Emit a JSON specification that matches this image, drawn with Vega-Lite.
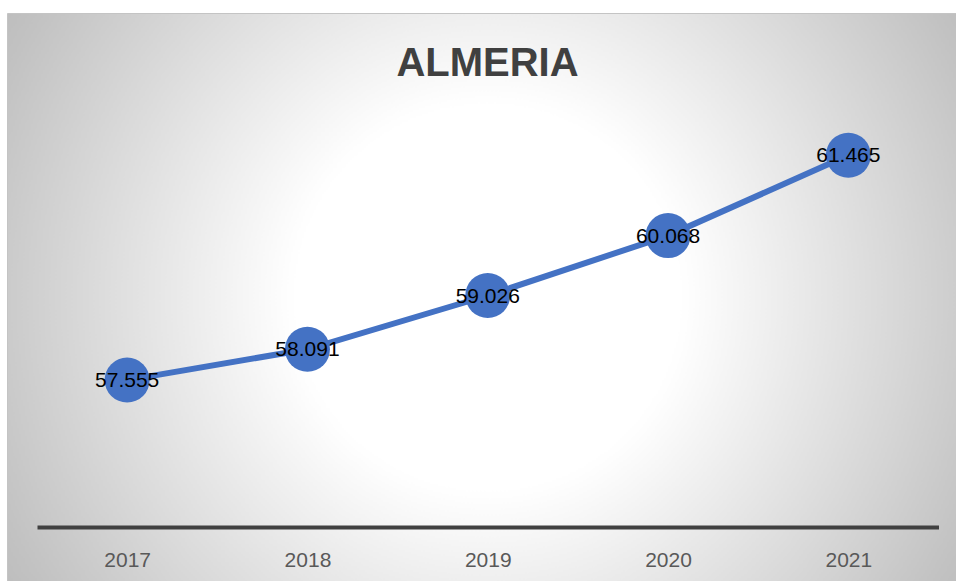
{
  "$schema": "https://vega.github.io/schema/vega-lite/v6.json",
  "width": 961,
  "height": 568,
  "autosize": {"type": "none"},
  "padding": {"left": 7, "top": 13, "right": 0, "bottom": 0},
  "background": "white",
  "config": {
    "view": {
      "fill": {
        "gradient": "radial",
        "x1": 0.5, "y1": 0.5, "r1": 0,
        "x2": 0.5, "y2": 0.5, "r2": 0.6,
        "stops": [
          {"offset": 0, "color": "#ffffff"},
          {"offset": 0.333, "color": "#ffffff"},
          {"offset": 0.917, "color": "#c2c2c2"},
          {"offset": 1, "color": "#bbbbbb"}
        ]
      },
      "stroke": "#c4c4c4",
      "strokeWidth": 1
    }
  },
  "title": {
    "text": "ALMERIA",
    "font": "Liberation Sans",
    "fontSize": 40,
    "fontWeight": "bold",
    "color": "#404040",
    "anchor": "middle",
    "frame": "group",
    "baseline": "alphabetic",
    "offset": -103
  },
  "data": {
    "values": [
      {"year": "2017", "value": 57.555},
      {"year": "2018", "value": 58.091},
      {"year": "2019", "value": 59.026},
      {"year": "2020", "value": 60.068},
      {"year": "2021", "value": 61.465}
    ]
  },
  "encoding": {
    "x": {
      "field": "year",
      "type": "ordinal",
      "scale": {"type": "point", "range": [30, 931.5], "padding": 0.5},
      "axis": {
        "title": null,
        "orient": "bottom",
        "offset": -54,
        "domainColor": "#404040",
        "domainWidth": 4,
        "domainCap": "butt",
        "ticks": false,
        "tickSize": 0,
        "grid": false,
        "labelFont": "Liberation Sans",
        "labelFontSize": 21,
        "labelColor": "#595959",
        "labelBaseline": "alphabetic",
        "labelPadding": 39,
        "labelAngle": 0
      }
    },
    "y": {
      "field": "value",
      "type": "quantitative",
      "scale": {"domain": [55, 63], "range": [514, 54]},
      "axis": null
    }
  },
  "layer": [
    {"mark": {"type": "line", "color": "#4472C4", "strokeWidth": 6}},
    {"mark": {"type": "point", "filled": true, "size": 2025, "color": "#4472C4", "opacity": 1}},
    {
      "mark": {"type": "text", "font": "Liberation Sans", "fontSize": 21, "color": "#000000", "align": "center", "baseline": "middle", "dy": 1},
      "encoding": {"text": {"field": "value", "type": "quantitative", "format": ".3f"}}
    }
  ]
}
